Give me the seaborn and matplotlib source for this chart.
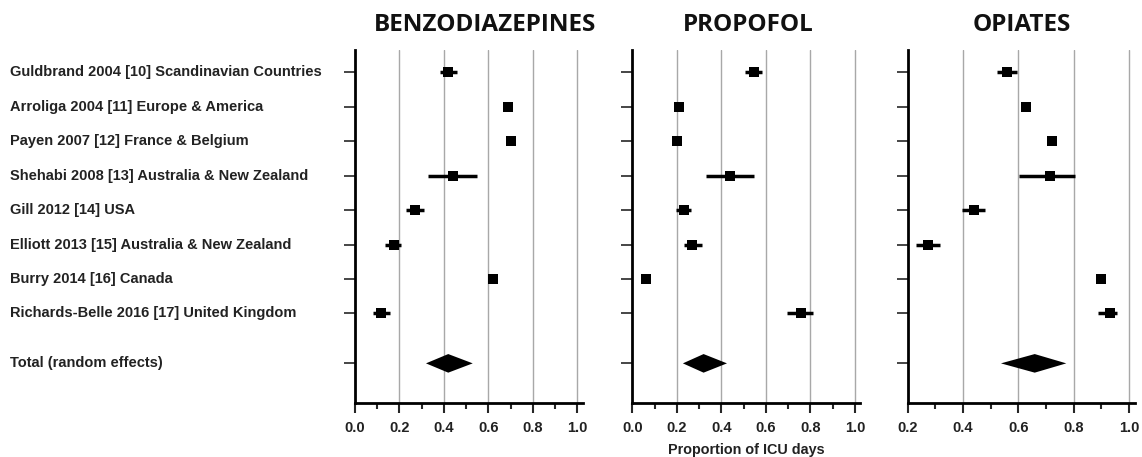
import numpy as np
import pandas as pd
import matplotlib
matplotlib.use('Agg')
import matplotlib.pyplot as plt
import matplotlib.transforms as mtransforms
from matplotlib.ticker import MultipleLocator
import seaborn as sns

# 연구 목록 (위에서 아래 순서)
studies = [
    'Guldbrand 2004 [10] Scandinavian Countries',
    'Arroliga 2004 [11] Europe & America',
    'Payen 2007 [12] France & Belgium',
    'Shehabi 2008 [13] Australia & New Zealand',
    'Gill 2012 [14] USA',
    'Elliott 2013 [15] Australia & New Zealand',
    'Burry 2014 [16] Canada',
    'Richards-Belle 2016 [17] United Kingdom',
]
total_label = 'Total (random effects)'
drugs = ['BENZODIAZEPINES', 'PROPOFOL', 'OPIATES']

# proportion of ICU days, 95% CI
benzo_est = [0.42, 0.69, 0.70, 0.44, 0.27, 0.175, 0.62, 0.12]
benzo_lo = [0.385, 0.68, 0.69, 0.33, 0.23, 0.135, 0.61, 0.08]
benzo_hi = [0.46, 0.70, 0.71, 0.55, 0.31, 0.21, 0.63, 0.16]
benzo_total = [0.42, 0.32, 0.53]

propofol_est = [0.545, 0.21, 0.20, 0.44, 0.23, 0.27, 0.062, 0.757]
propofol_lo = [0.505, 0.20, 0.19, 0.33, 0.195, 0.23, 0.055, 0.695]
propofol_hi = [0.583, 0.22, 0.21, 0.548, 0.264, 0.312, 0.07, 0.81]
propofol_total = [0.32, 0.227, 0.425]

opiates_est = [0.56, 0.629, 0.721, 0.714, 0.438, 0.274, 0.897, 0.931]
opiates_lo = [0.521, 0.62, 0.71, 0.603, 0.396, 0.23, 0.89, 0.889]
opiates_hi = [0.596, 0.64, 0.73, 0.806, 0.481, 0.316, 0.905, 0.957]
opiates_total = [0.659, 0.537, 0.773]

est_all = [benzo_est, propofol_est, opiates_est]
lo_all = [benzo_lo, propofol_lo, opiates_lo]
hi_all = [benzo_hi, propofol_hi, opiates_hi]
total_all = [benzo_total, propofol_total, opiates_total]
x_min = [0.0, 0.0, 0.2]

sns.set_style('white')
plt.rcParams['font.family'] = ['Liberation Sans', 'DejaVu Sans']

fig = plt.figure(figsize=(11.42, 4.57), dpi=100)
lefts = [0.3106, 0.5537, 0.7948]
title_x = [0.57, 0.507, 0.50]
bottom, top = 0.119, 0.8906
width = 0.1995

rows = np.arange(len(studies))
total_y = len(studies) - 1 + 1.45

axes = []
for i, drug in enumerate(drugs):
    ax = fig.add_axes([lefts[i], bottom, width, top - bottom])
    axes.append(ax)
    df = pd.DataFrame({'study': studies, 'y': rows,
                       'est': est_all[i], 'lo': lo_all[i], 'hi': hi_all[i]})

    # grid lines
    for g in np.arange(x_min[i] + 0.2, 1.01, 0.2):
        ax.axvline(g, color='#a8a8a8', lw=1.0, zorder=0)

    # confidence intervals
    ax.hlines(df['y'], df['lo'], df['hi'], color='black', lw=2.5, zorder=2)
    sns.scatterplot(data=df, x='est', y='y', marker='s', s=52, color='black',
                    edgecolor='black', linewidth=0, ax=ax, zorder=3, legend=False)

    # pooled estimate diamond
    t_est, t_lo, t_hi = total_all[i]
    h = 0.27
    ax.fill([t_lo, t_est, t_hi, t_est], [total_y, total_y - h, total_y, total_y + h],
            color='black', lw=0, zorder=3)

    ax.set_xlim(x_min[i], 1.023)
    ax.set_ylim(total_y + 1.14, -0.65)
    ax.xaxis.set_minor_locator(MultipleLocator(0.1))
    ticks = np.round(np.arange(x_min[i], 1.01, 0.2), 1)
    ax.set_xticks(ticks)
    ax.set_xticklabels([f'{v:.1f}' for v in ticks],
                       fontsize=10.5, fontweight='bold', color='#222222')
    ax.set_yticks(list(rows) + [total_y])
    ax.set_yticklabels([])
    ax.tick_params(axis='x', which='major', direction='out', length=7, width=1.5,
                   bottom=True, pad=6)
    ax.tick_params(axis='x', which='minor', direction='out', length=4, width=1.5,
                   bottom=True)
    ax.tick_params(axis='y', direction='out', length=8, width=1.2, left=True)
    sns.despine(ax=ax, top=True, right=True)
    for s in ['left', 'bottom']:
        ax.spines[s].set_linewidth(2.0)
        ax.spines[s].set_color('black')
    ax.set_xlabel('')
    ax.set_ylabel('')
    ax.text(title_x[i], 1.071, drug, transform=ax.transAxes, ha='center', va='center',
            fontsize=17.5, fontweight='bold', family=['Open Sans', 'DejaVu Sans'],
            color='#111111')

axes[1].set_xlabel('Proportion of ICU days', fontsize=10.4, fontweight='bold',
                   color='#222222', labelpad=6)

# study labels on the left
trans = mtransforms.blended_transform_factory(fig.transFigure, axes[0].transData)
for y, name in zip(rows, studies):
    fig.text(10 / 1142, y, name, transform=trans, ha='left', va='center',
             fontsize=10.5, fontweight='bold', color='#222222')
fig.text(10 / 1142, total_y, total_label, transform=trans, ha='left', va='center',
         fontsize=10.5, fontweight='bold', color='#222222')

fig.savefig('out.png', dpi=100)
